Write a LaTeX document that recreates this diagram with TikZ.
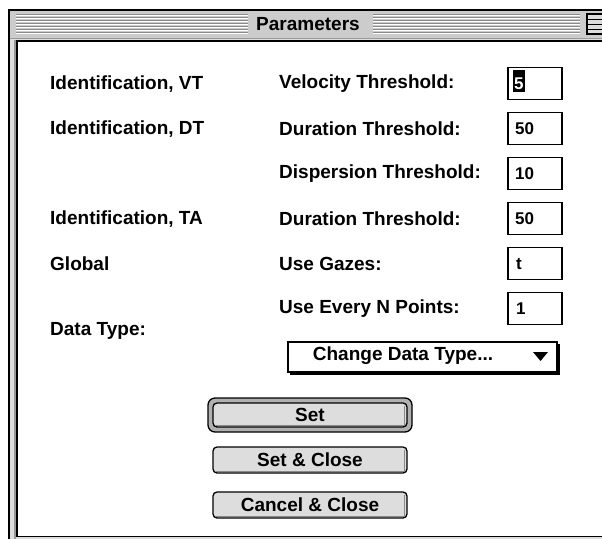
\documentclass[tikz,border=0pt]{standalone}
\usepackage{fontspec}
\setmainfont{Liberation Sans}
\definecolor{framegray}{HTML}{DDDDDD}
\definecolor{titlegray}{HTML}{CCCCCC}
\definecolor{stripedark}{HTML}{8A8A8A}
\definecolor{edgegray}{HTML}{999999}
\definecolor{btnface}{HTML}{DDDDDD}
\definecolor{btnshade}{HTML}{888888}
\definecolor{ringgray}{HTML}{B0B0B0}
\begin{document}
\begin{tikzpicture}[x=1pt,y=-1pt,
  lbl/.style={font=\fontsize{19}{22}\selectfont\bfseries, inner sep=0pt, anchor=west},
  val/.style={font=\fontsize{17}{20}\selectfont\bfseries, inner sep=0pt, anchor=west},
  tbox/.style={draw=black, line width=1.3pt, fill=white, minimum width=54pt, minimum height=32pt, inner sep=0pt},
  btn/.style={draw=black, line width=1.3pt, fill=btnface, rounded corners=4pt},
  btntext/.style={font=\fontsize{19}{22}\selectfont\bfseries, inner sep=0pt}
]
\useasboundingbox (0,0) rectangle (602,539);
\fill[white] (0,0) rectangle (602,539);

% window frame
\fill[framegray] (8,9) rectangle (602,539);
\fill[edgegray] (14,40) rectangle (16,539);
% title bar
\fill[titlegray] (10,11) rectangle (602,38);
\foreach \y in {14.5,17.5,...,32.5} {
  \draw[stripedark, line width=1pt] (16,\y) -- (248,\y);
  \draw[white, line width=1pt] (16,\y+1) -- (248,\y+1);
  \draw[stripedark, line width=1pt] (373,\y) -- (580,\y);
  \draw[white, line width=1pt] (373,\y+1) -- (580,\y+1);
}
\node[font=\fontsize{19}{22}\selectfont\bfseries, inner sep=0pt] (title) at (308,24) {Parameters};
% collapse box at the right of the title bar
\fill[black] (586,13) rectangle (604,35);
\fill[btnface] (588,15) rectangle (604,33);
\foreach \y in {19.5,24.5,29.5} \draw[black, line width=1pt] (588,\y) -- (604,\y);
\draw[edgegray, line width=1pt] (10,38.5) -- (602,38.5);
% outer border
\draw[black, line width=1.5pt] (8.75,539) -- (8.75,9.75) -- (602,9.75);

% content area
\fill[white] (16,40) rectangle (602,535.5);
\draw[black, line width=1.5pt] (16.75,536) -- (16.75,40.75) -- (602,40.75);
\draw[black, line width=1.5pt] (16,536.5) -- (602,536.5);

% left column
\node[lbl] (g1) at (50,84) {Identification, VT};
\node[lbl] (g2) at (50,129) {Identification, DT};
\node[lbl] (g3) at (50,219) {Identification, TA};
\node[lbl] (g4) at (50,264) {Global};
\node[lbl] (g5) at (50,331) {Data Type:};

% parameter labels
\node[lbl] (p1) at (279,84) {Velocity Threshold:};
\node[lbl] (p2) at (279,129) {Duration Threshold:};
\node[lbl] (p3) at (279,174) {Dispersion Threshold:};
\node[lbl] (p4) at (279,219) {Duration Threshold:};
\node[lbl] (p5) at (279,264) {Use Gazes:};
\node[lbl] (p6) at (279,309) {Use Every N Points:};

% entry fields
\node[tbox] (b1) at (535,83.5) {};
\node[tbox] (b2) at (535,128.5) {};
\node[tbox] (b3) at (535,173.5) {};
\node[tbox] (b4) at (535,218.5) {};
\node[tbox] (b5) at (535,263.5) {};
\node[tbox] (b6) at (535,308.5) {};
\fill[black] (513,70) rectangle (525,92);
\node[val, text=white] (v1) at (514,84) {5};
\node[val] (v2) at (515,129) {50};
\node[val] (v3) at (515,174) {10};
\node[val] (v4) at (515,219) {50};
\node[val] (v5) at (516,264) {t};
\node[val] (v6) at (516,309) {1};

% pop-up menu
\fill[black] (290,344) rectangle (560,375);
\node[draw=black, line width=1.3pt, fill=white, minimum width=269pt, minimum height=30pt, inner sep=0pt] (menu) at (422.5,357) {};
\node[btntext] (menutext) at (403,356) {Change Data Type...};
\fill[black] (533,352) -- (548,352) -- (540.5,361) -- cycle;

% buttons
\draw[black, line width=1.3pt, fill=ringgray, rounded corners=7pt] (208,398) rectangle (412,432);
\draw[btn] (213,403) rectangle (407,427);
\draw[btnshade, line width=1pt] (216,425) -- (404,425) -- (404,406);
\node[btntext] (set) at (310,415) {Set};

\draw[btn] (213,447) rectangle (407,473);
\draw[btnshade, line width=1pt] (216,471) -- (404,471) -- (404,450);
\node[btntext] (setclose) at (310,460) {Set \& Close};

\draw[btn] (213,492) rectangle (407,518);
\draw[btnshade, line width=1pt] (216,516) -- (404,516) -- (404,495);
\node[btntext] (cancel) at (310,505) {Cancel \& Close};
\end{tikzpicture}
\end{document}
